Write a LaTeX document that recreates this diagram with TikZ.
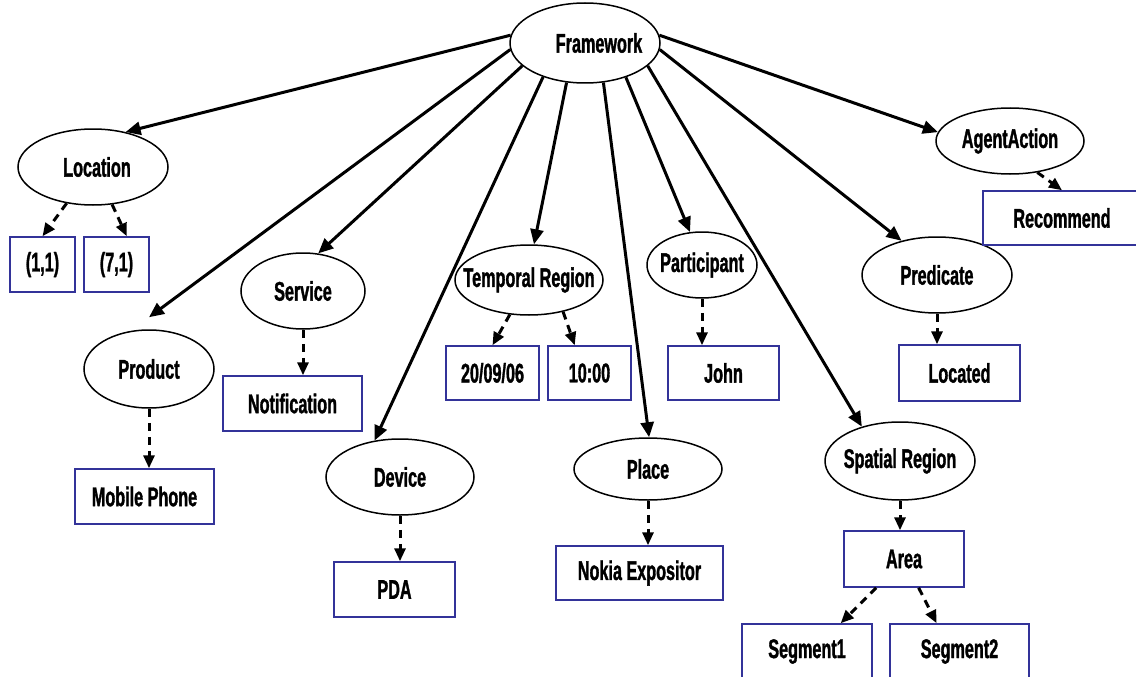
\documentclass[tikz,border=0pt]{standalone}
\usepackage{fontspec}
\setmainfont{Liberation Sans}[FakeStretch=0.6,BoldFeatures={FakeBold=1.2}]
\usetikzlibrary{shapes.geometric,arrows.meta}
\definecolor{boxblue}{RGB}{51,51,153}
\tikzset{
  concept/.style={ellipse,draw,line width=1.5pt,inner xsep=-30pt,inner ysep=0pt},
  value/.style={rectangle,draw=boxblue,line width=1.5pt,inner sep=0pt,minimum height=55pt},
  rel/.style={line width=3pt,-{Triangle[length=15pt,width=13pt]}},
  inst/.style={line width=3pt,dash pattern=on 8pt off 6pt,-{Triangle[length=13pt,width=11pt]}}
}
\begin{document}
\begin{tikzpicture}[x=1pt,y=-1pt,font=\fontsize{27}{30}\selectfont\bfseries]
\useasboundingbox (0,0) rectangle (1136,677);
\clip (0,0) rectangle (1136,677);
\node[concept,minimum width=150pt,minimum height=80pt] (fw) at (585,43) {\hspace*{28pt}Framework};
\node[concept,minimum width=150pt,minimum height=76pt] (loc) at (93,167) {\hspace*{8pt}Location};
\node[concept,minimum width=130pt,minimum height=78pt] (prod) at (149,369) {Product};
\node[concept,minimum width=124pt,minimum height=76pt] (serv) at (303,291) {Service};
\node[concept,minimum width=148pt,minimum height=76pt] (dev) at (400,477) {Device};
\node[concept,minimum width=148pt,minimum height=70pt] (temp) at (529,280) {Temporal Region};
\node[concept,minimum width=110pt,minimum height=66pt] (part) at (702,265) {Participant};
\node[concept,minimum width=148pt,minimum height=62pt] (place) at (648,469) {Place};
\node[concept,minimum width=150pt,minimum height=78pt] (spat) at (900,461) {Spatial Region};
\node[concept,minimum width=150pt,minimum height=76pt] (pred) at (937,275) {Predicate};
\node[concept,minimum width=148pt,minimum height=66pt] (agent) at (1010,141) {AgentAction};
\node[value,minimum width=65pt] (b11) at (42.5,264.5) {(1,1)};
\node[value,minimum width=65pt] (b71) at (116.5,264.5) {(7,1)};
\node[value,minimum width=158pt,minimum height=54pt] (rec) at (1062,218) {Recommend};
\node[value,minimum width=93pt,minimum height=54pt] (date) at (492.5,373) {20/09/06};
\node[value,minimum width=83pt,minimum height=54pt] (time) at (589.5,373) {10:00};
\node[value,minimum width=111pt,minimum height=54pt] (john) at (723.5,373) {John};
\node[value,minimum width=121pt,minimum height=56pt] (located) at (959.5,373) {Located};
\node[value,minimum width=139pt] (notif) at (292.5,403.5) {Notification};
\node[value,minimum width=139pt] (mobile) at (144.5,496.5) {Mobile Phone};
\node[value,minimum width=121pt] (pda) at (394.5,589.5) {PDA};
\node[value,minimum width=167pt,minimum height=54pt] (nokia) at (639.5,573) {Nokia Expositor};
\node[value,minimum width=120pt,minimum height=56pt] (area) at (904,559) {Area};
\node[value,minimum width=130pt] (seg1) at (807,651.5) {Segment1};
\node[value,minimum width=139pt] (seg2) at (959.5,651.5) {Segment2};
\draw[rel] (fw.174) -- (loc.47);
\draw[rel] (fw.185) -- ([yshift=12pt]prod.north);
\draw[rel] (fw.200) -- (serv.68);
\draw[rel] (fw.219) -- (dev.125);
\draw[rel] (fw.245) -- (temp.82);
\draw[rel] (fw.295) -- (place.88);
\draw[rel] (fw.320) -- (part.110);
\draw[rel] (fw.340) -- (spat.138);
\draw[rel] (fw.355) -- (pred.136);
\draw[rel] (fw.6) -- (agent.173);
\draw[inst] (loc.234) -- (b11.north);
\draw[inst] (loc.297) -- (b71.70);
\draw[inst] (prod.south) -- (prod.south |- mobile.north);
\draw[inst] (serv.south) -- (serv.south |- notif.north);
\draw[inst] (dev.south) -- (dev.south |- pda.north);
\draw[inst] (temp.241) -- (date.north);
\draw[inst] (temp.317) -- (time.118);
\draw[inst] (part.south) -- (part.south |- john.north);
\draw[inst] (place.south) -- (place.south |- nokia.north);
\draw[inst] (spat.south) -- (spat.south |- area.north);
\draw[inst] (pred.south) -- (pred.south |- located.north);
\draw[inst] (agent.311) -- (rec.north);
\draw[inst] (area.226) -- (seg1.40);
\draw[inst] (area.297) -- (seg2.129);
\end{tikzpicture}
\end{document}
